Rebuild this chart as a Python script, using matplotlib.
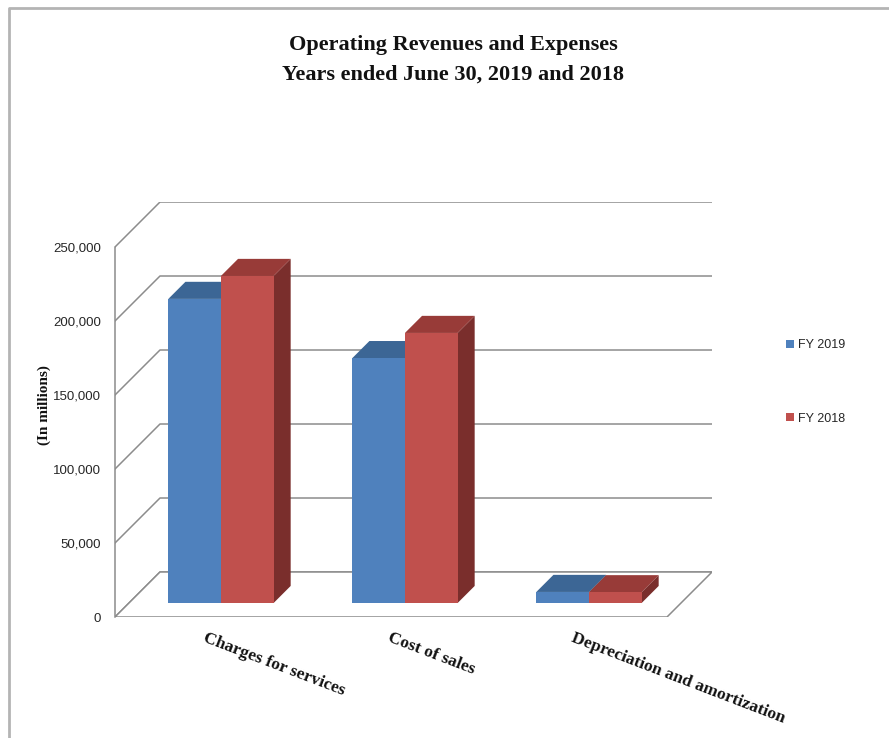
import matplotlib
matplotlib.use("Agg")
import matplotlib.pyplot as plt
from matplotlib.patches import Polygon, Rectangle
from matplotlib.lines import Line2D
from matplotlib.ticker import FuncFormatter

# values (in millions)
categories = ["Charges for services", "Cost of sales", "Depreciation and amortization"]
fy2019 = [205500, 165500, 7500]
fy2018 = [221000, 182500, 7300]
series_labels = ["FY 2019", "FY 2018"]
yticks = [0, 50000, 100000, 150000, 200000, 250000]

# fake 3D (oblique) geometry, in data units
DX, DY = 0.2445, 30400          # full depth of floor / side wall
BAR_W = 0.286                   # width of one bar's front face
BAR_Z0, BAR_Z1 = 0.31, 0.69     # front / back of the bars, as fraction of depth

front_cols = ["#4F81BD", "#C0504D"]
top_cols = ["#3C6695", "#983B38"]
side_cols = ["#2F5078", "#7A2E2C"]
grid_col = "#8C8C8C"

SERIF = ["Liberation Serif", "DejaVu Serif"]
SANS = ["Liberation Sans", "DejaVu Sans"]


def bar3d(ax, x0, x1, v, i):
    ox, oy = BAR_Z0 * DX, BAR_Z0 * DY
    bx, by = BAR_Z1 * DX, BAR_Z1 * DY
    front = [(x0 + ox, oy), (x1 + ox, oy), (x1 + ox, oy + v), (x0 + ox, oy + v)]
    top = [(x0 + ox, oy + v), (x1 + ox, oy + v), (x1 + bx, by + v), (x0 + bx, by + v)]
    side = [(x1 + ox, oy), (x1 + bx, by), (x1 + bx, by + v), (x1 + ox, oy + v)]
    for pts, c in ((side, side_cols[i]), (top, top_cols[i]), (front, front_cols[i])):
        ax.add_patch(Polygon(pts, closed=True, facecolor=c, edgecolor="none", zorder=3))


fig = plt.figure(figsize=(8.89, 7.38), dpi=100)
ax = fig.add_axes([115 / 889, 121 / 738, 597 / 889, 415 / 738])
ax.set_xlim(-0.5, 2.5 + DX)
ax.set_ylim(0, yticks[-1] + DY)
ax.patch.set_visible(False)

# walls: left-side diagonals + back-wall gridlines
for t in yticks:
    ax.plot([-0.5, -0.5 + DX, 2.5 + DX], [t, t + DY, t + DY], color=grid_col, lw=1.1, zorder=1)
# floor outline
ax.add_patch(Polygon([(-0.5, 0), (2.5, 0), (2.5 + DX, DY), (-0.5 + DX, DY)], closed=True,
                     facecolor="white", edgecolor=grid_col, lw=1.1, zorder=2))

for k in range(len(categories)):
    bar3d(ax, k - BAR_W, k, fy2019[k], 0)
    bar3d(ax, k, k + BAR_W, fy2018[k], 1)

for s in ["top", "right", "bottom"]:
    ax.spines[s].set_visible(False)
ax.spines["left"].set_bounds(0, yticks[-1])
ax.spines["left"].set_color(grid_col)
ax.spines["left"].set_linewidth(1.1)
ax.set_xticks([])
ax.set_yticks(yticks)
ax.yaxis.set_major_formatter(FuncFormatter(lambda v, p: f"{v:,.0f}"))
ax.tick_params(axis="y", length=0, pad=10, labelsize=9.5, labelcolor="#262626")
for lab in ax.get_yticklabels():
    lab.set_family(SANS)

for k, cat in enumerate(categories):
    ax.text(k, -8800, cat, rotation=-21, rotation_mode="anchor", ha="left", va="top",
            fontsize=12.5, fontweight="bold", family=SERIF, color="#111111")

fig.text(453 / 889, 1 - 45 / 738, "Operating Revenues and Expenses", ha="center", va="center",
         fontsize=16, fontweight="bold", family=SERIF, color="#111111")
fig.text(453 / 889, 1 - 75 / 738, "Years ended June 30, 2019 and 2018", ha="center", va="center",
         fontsize=16, fontweight="bold", family=SERIF, color="#111111")
fig.text(44 / 889, 1 - 405 / 738, "(In millions)", rotation=90, ha="center", va="center",
         fontsize=11, fontweight="bold", family=SERIF, color="#111111")

handles = [Rectangle((0, 0), 1, 1, facecolor=c, edgecolor="none") for c in front_cols]
leg = fig.legend(handles, series_labels, loc="center left", bbox_to_anchor=(786 / 889, 1 - 382 / 738),
                 frameon=False, labelspacing=4.9, handlelength=0.65, handleheight=0.65,
                 handletextpad=0.3, borderpad=0, borderaxespad=0, prop={"family": SANS, "size": 9})
for t in leg.get_texts():
    t.set_color("#262626")

# outer chart border (left and top visible)
fig.add_artist(Line2D([9 / 889, 9 / 889, 1.0], [0, 1 - 8 / 738, 1 - 8 / 738],
                      transform=fig.transFigure, color="#B4B4B4", lw=2))

fig.savefig("out.png", dpi=100)
